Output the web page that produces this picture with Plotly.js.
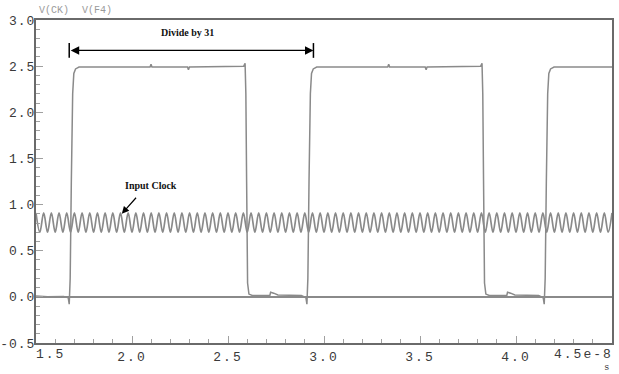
<!DOCTYPE html>
<html>
<head>
<meta charset="utf-8">
<script src="https://cdn.plot.ly/plotly-3.0.1.min.js"></script>
<style>
html,body{margin:0;padding:0;background:#fff;}
#chart{width:619px;height:374px;}
.xtick text{letter-spacing:2px;}
.ytick text{letter-spacing:1px;}
g.annotation[data-index="7"] text, g.annotation[data-index="8"] text{letter-spacing:2px;}
</style>
</head>
<body>
<div id="chart"></div>
<script>
// Time axis in units of 1e-8 s
const xTickVals = [1.5, 2.0, 2.5, 3.0, 3.5, 4.0, 4.5];
const xTickText = ["", "2.0", "2.5", "3.0", "3.5", "4.0", ""];
const xEdgeLabels = ["1.5", "4.5e-8"];   // drawn flush with the plot edges
const yTickVals = [-0.5, 0.0, 0.5, 1.0, 1.5, 2.0, 2.5, 3.0];
const yTickText = ["-0.5", "0.0", "0.5", "1.0", "1.5", "2.0", "2.5", "3.0"];

// V(F4): divide-by-31 output
const f4T = [1.500, 1.560, 1.644, 1.668, 1.673, 1.678, 1.684, 1.691, 1.697, 1.706, 1.724,
  2.094, 2.099, 2.104, 2.289, 2.294, 2.299,
  2.582, 2.589, 2.593, 2.597, 2.602, 2.609, 2.627,
  2.718, 2.722, 2.738, 2.760,
  2.882, 2.906, 2.911, 2.916, 2.922, 2.929, 2.935, 2.944, 2.962,
  3.332, 3.337, 3.342, 3.527, 3.532, 3.537,
  3.816, 3.823, 3.827, 3.831, 3.836, 3.843, 3.861,
  3.952, 3.956, 3.972, 3.994,
  4.118, 4.142, 4.147, 4.152, 4.158, 4.165, 4.171, 4.180, 4.198,
  4.500];
const f4V = [0.010, 0.000, 0.005, -0.010, -0.080, 0.200, 1.250, 2.200, 2.420, 2.470, 2.490,
  2.490, 2.520, 2.490, 2.490, 2.460, 2.490,
  2.500, 2.530, 2.200, 1.250, 0.150, 0.030, 0.015,
  0.015, 0.050, 0.040, 0.020,
  0.015, -0.010, -0.080, 0.200, 1.250, 2.200, 2.420, 2.470, 2.490,
  2.490, 2.520, 2.490, 2.490, 2.460, 2.490,
  2.500, 2.530, 2.200, 1.250, 0.150, 0.030, 0.015,
  0.015, 0.050, 0.040, 0.020,
  0.015, -0.010, -0.080, 0.200, 1.250, 2.200, 2.420, 2.470, 2.490,
  2.490];

// V(CK): input clock, peaks and troughs every half period (0.02e-8 s) from 1.5e-8 s
const clockStart = 1.5;
const clockHalfPeriod = 0.02;
const clockV = [
  0.91,0.70,0.91,0.70,0.91,0.70,0.91,0.70,0.91,0.70,
  0.91,0.70,0.91,0.70,0.91,0.70,0.91,0.70,0.91,0.70,
  0.91,0.70,0.91,0.70,0.91,0.70,0.91,0.70,0.91,0.70,
  0.91,0.70,0.91,0.70,0.91,0.70,0.91,0.70,0.91,0.70,
  0.91,0.70,0.91,0.70,0.91,0.70,0.91,0.70,0.91,0.70,
  0.91,0.70,0.91,0.70,0.91,0.70,0.91,0.70,0.91,0.70,
  0.91,0.70,0.91,0.70,0.91,0.70,0.91,0.70,0.91,0.70,
  0.91,0.70,0.91,0.70,0.91,0.70,0.91,0.70,0.91,0.70,
  0.91,0.70,0.91,0.70,0.91,0.70,0.91,0.70,0.91,0.70,
  0.91,0.70,0.91,0.70,0.91,0.70,0.91,0.70,0.91,0.70,
  0.91,0.70,0.91,0.70,0.91,0.70,0.91,0.70,0.91,0.70,
  0.91,0.70,0.91,0.70,0.91,0.70,0.91,0.70,0.91,0.70,
  0.91,0.70,0.91,0.70,0.91,0.70,0.91,0.70,0.91,0.70,
  0.91,0.70,0.91,0.70,0.91,0.70,0.91,0.70,0.91,0.70,
  0.91,0.70,0.91,0.70,0.91,0.70,0.91,0.70,0.91,0.70,
  0.91];

const divideStart = 1.673, divideEnd = 2.945, divideLevel = 2.67;

const traceColor = '#8a8a8a';
const monoFont = 'Liberation Mono, DejaVu Sans Mono, monospace';
const serifFont = 'Liberation Serif, DejaVu Serif, serif';
const tickFont = {family: monoFont, size: 13, color: '#3a3a3a'};

const traces = [
  {
    type: 'scatter', mode: 'lines', name: 'V(CK)',
    x0: clockStart, dx: clockHalfPeriod, y: clockV,
    line: {color: traceColor, width: 1.7, shape: 'spline', smoothing: 1},
    hoverinfo: 'skip'
  },
  {
    type: 'scatter', mode: 'lines', name: 'V(F4)',
    x: f4T, y: f4V,
    line: {color: traceColor, width: 1.5},
    hoverinfo: 'skip'
  }
];

const layout = {
  width: 619, height: 374,
  margin: {l: 36, r: 7, t: 20, b: 31, pad: 0},
  paper_bgcolor: '#ffffff', plot_bgcolor: '#ffffff',
  showlegend: false,
  xaxis: {
    range: [1.5, 4.5], tickmode: 'array', tickvals: xTickVals, ticktext: xTickText,
    ticks: 'inside', ticklen: 7, tickwidth: 1, tickcolor: '#a0a0a0',
    minor: {ticks: 'inside', ticklen: 4, tickwidth: 1, tickcolor: '#a0a0a0', dtick: 0.1, showgrid: false},
    showline: true, linecolor: '#6a6a6a', linewidth: 2, mirror: true,
    showgrid: false, zeroline: false,
    tickfont: tickFont
  },
  yaxis: {
    range: [-0.5, 3.0], tickmode: 'array', tickvals: yTickVals, ticktext: yTickText,
    ticks: 'inside', ticklen: 7, tickwidth: 1, tickcolor: '#a0a0a0',
    ticklabelstandoff: -4, ticklabeloverflow: 'allow',
    minor: {ticks: 'inside', ticklen: 4, tickwidth: 1, tickcolor: '#a0a0a0', dtick: 0.1, showgrid: false},
    showline: true, linecolor: '#6a6a6a', linewidth: 2, mirror: true,
    showgrid: false, zeroline: true, zerolinecolor: traceColor, zerolinewidth: 1.5,
    tickfont: tickFont
  },
  shapes: [
    {type: 'line', xref: 'x', yref: 'y', x0: divideStart, x1: divideStart, y0: divideLevel - 0.08, y1: divideLevel + 0.08,
     line: {color: '#000', width: 1.5}},
    {type: 'line', xref: 'x', yref: 'y', x0: divideEnd, x1: divideEnd, y0: divideLevel - 0.08, y1: divideLevel + 0.08,
     line: {color: '#000', width: 1.5}}
  ],
  annotations: [
    {xref: 'x', yref: 'y', x: divideEnd, y: divideLevel, axref: 'x', ayref: 'y', ax: divideStart, ay: divideLevel,
     text: '', showarrow: true, arrowside: 'end+start', arrowhead: 2, startarrowhead: 2,
     arrowsize: 1.3, startarrowsize: 1.3, arrowwidth: 1.3, arrowcolor: '#000', standoff: 0, startstandoff: 0},
    {xref: 'x', yref: 'y', x: 2.290, y: 2.86, text: '<b>Divide by 31</b>', showarrow: false,
     font: {family: serifFont, size: 10, color: '#111'}},
    {xref: 'x', yref: 'y', x: 2.100, y: 1.212, text: '<b>Input Clock</b>', showarrow: false,
     font: {family: serifFont, size: 10, color: '#111'}},
    {xref: 'x', yref: 'y', x: 1.947, y: 0.90, axref: 'x', ayref: 'y', ax: 2.028, ay: 1.09,
     text: '', showarrow: true, arrowhead: 2, arrowsize: 1.2, arrowwidth: 1.2, arrowcolor: '#000', standoff: 0},
    {xref: 'paper', yref: 'paper', x: 0.002, y: 1.028, xanchor: 'left', yanchor: 'middle', text: 'V(CK)', showarrow: false,
     font: {family: monoFont, size: 10, color: '#9a9a9a'}},
    {xref: 'paper', yref: 'paper', x: 0.076, y: 1.028, xanchor: 'left', yanchor: 'middle', text: 'V(F4)', showarrow: false,
     font: {family: monoFont, size: 10, color: '#9a9a9a'}},
    {xref: 'paper', yref: 'paper', x: 0.990, y: -0.0765, xanchor: 'center', yanchor: 'middle', text: 's', showarrow: false,
     font: {family: monoFont, size: 9, color: '#3a3a3a'}},
    {xref: 'x', yref: 'paper', x: xTickVals[0], y: -0.037, xanchor: 'left', yanchor: 'middle', xshift: 1,
     text: xEdgeLabels[0], showarrow: false, font: tickFont},
    {xref: 'x', yref: 'paper', x: xTickVals[xTickVals.length - 1], y: -0.037, xanchor: 'right', yanchor: 'middle', xshift: -3,
     text: xEdgeLabels[1], showarrow: false, font: tickFont}
  ]
};

Plotly.newPlot('chart', traces, layout, {staticPlot: true, displayModeBar: false});
</script>
</body>
</html>
